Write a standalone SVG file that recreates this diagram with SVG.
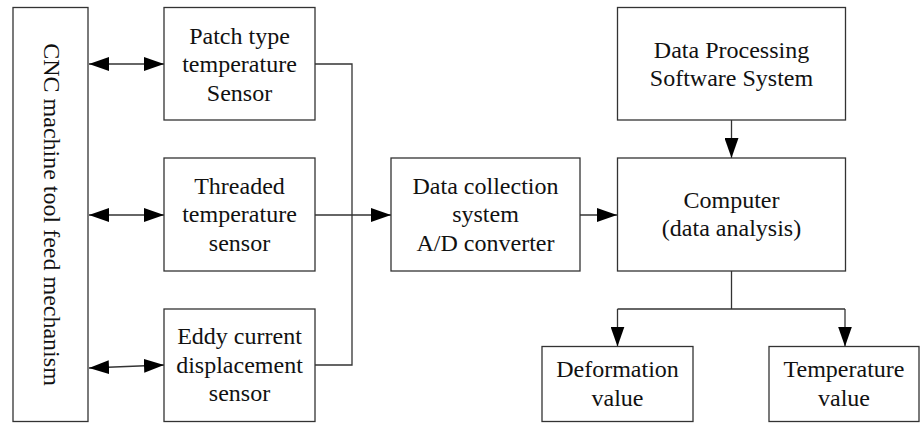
<svg xmlns="http://www.w3.org/2000/svg" width="920" height="423" viewBox="0 0 920 423">
<style>
.box{fill:#fff;stroke:#333;stroke-width:1.3}
.t{font-family:"Liberation Serif","Times New Roman",serif;font-size:24px;fill:#111;text-anchor:middle}
.ln{fill:none;stroke:#333;stroke-width:1.3}
.ar{fill:none;stroke:#333;stroke-width:1.3;marker-end:url(#ah)}
.dar{fill:none;stroke:#333;stroke-width:1.3;marker-end:url(#ah);marker-start:url(#ah)}
</style>
<defs>
<marker id="ah" markerUnits="userSpaceOnUse" markerWidth="20" markerHeight="14" refX="20" refY="7" orient="auto-start-reverse" viewBox="0 0 20 14">
<path d="M0,0 L20,7 L0,14 z" fill="#000"/>
</marker>
</defs>
<rect width="920" height="423" fill="#fff"/>
<g id="connectors">
<path class="dar" d="M89,64 L164,64"/>
<path class="dar" d="M89,215 L164,215"/>
<path class="dar" d="M89,368 L164,365"/>
<path class="ln" d="M315,64 L352,64 L352,365 L315,365"/>
<path class="ar" d="M315,215 L391,215"/>
<path class="ar" d="M580,215 L617,215"/>
<path class="ar" d="M731.5,120 L731.5,158"/>
<path class="ln" d="M731.5,271 L731.5,309"/>
<path class="ar" d="M617.5,309 L617.5,346.5"/>
<path class="ar" d="M845,309 L845,346.5"/>
<path class="ln" d="M617.5,309 L845,309"/>
</g>
<g id="cnc">
<rect class="box" x="13" y="7.5" width="75" height="414"/>
<text class="t" transform="translate(44,214.5) rotate(90)">CNC machine tool feed mechanism</text>
</g>
<g id="patch">
<rect class="box" x="164" y="7.5" width="151" height="112.5"/>
<text class="t" x="239.5" y="43.5">Patch type</text>
<text class="t" x="239.5" y="72">temperature</text>
<text class="t" x="239.5" y="100.5">Sensor</text>
</g>
<g id="threaded">
<rect class="box" x="164" y="158" width="151" height="113"/>
<text class="t" x="239.5" y="193.5">Threaded</text>
<text class="t" x="239.5" y="222">temperature</text>
<text class="t" x="239.5" y="250.5">sensor</text>
</g>
<g id="eddy">
<rect class="box" x="164" y="309" width="151" height="112.5"/>
<text class="t" x="239.5" y="344">Eddy current</text>
<text class="t" x="239.5" y="372.5">displacement</text>
<text class="t" x="239.5" y="401">sensor</text>
</g>
<g id="daq">
<rect class="box" x="391" y="158" width="189" height="113"/>
<text class="t" x="485.5" y="193.5">Data collection</text>
<text class="t" x="485.5" y="222">system</text>
<text class="t" x="485.5" y="250.5">A/D converter</text>
</g>
<g id="software">
<rect class="box" x="617.5" y="7.5" width="228" height="112.5"/>
<text class="t" x="731.5" y="57.5">Data Processing</text>
<text class="t" x="731.5" y="86">Software System</text>
</g>
<g id="computer">
<rect class="box" x="617.5" y="158" width="228" height="113"/>
<text class="t" x="731.5" y="207.5">Computer</text>
<text class="t" x="731.5" y="236">(data analysis)</text>
</g>
<g id="deformation">
<rect class="box" x="542" y="346.5" width="151" height="75"/>
<text class="t" x="617.5" y="377">Deformation</text>
<text class="t" x="617.5" y="405.5">value</text>
</g>
<g id="temperature">
<rect class="box" x="769" y="346.5" width="150" height="75"/>
<text class="t" x="844" y="377">Temperature</text>
<text class="t" x="844" y="405.5">value</text>
</g>
</svg>
